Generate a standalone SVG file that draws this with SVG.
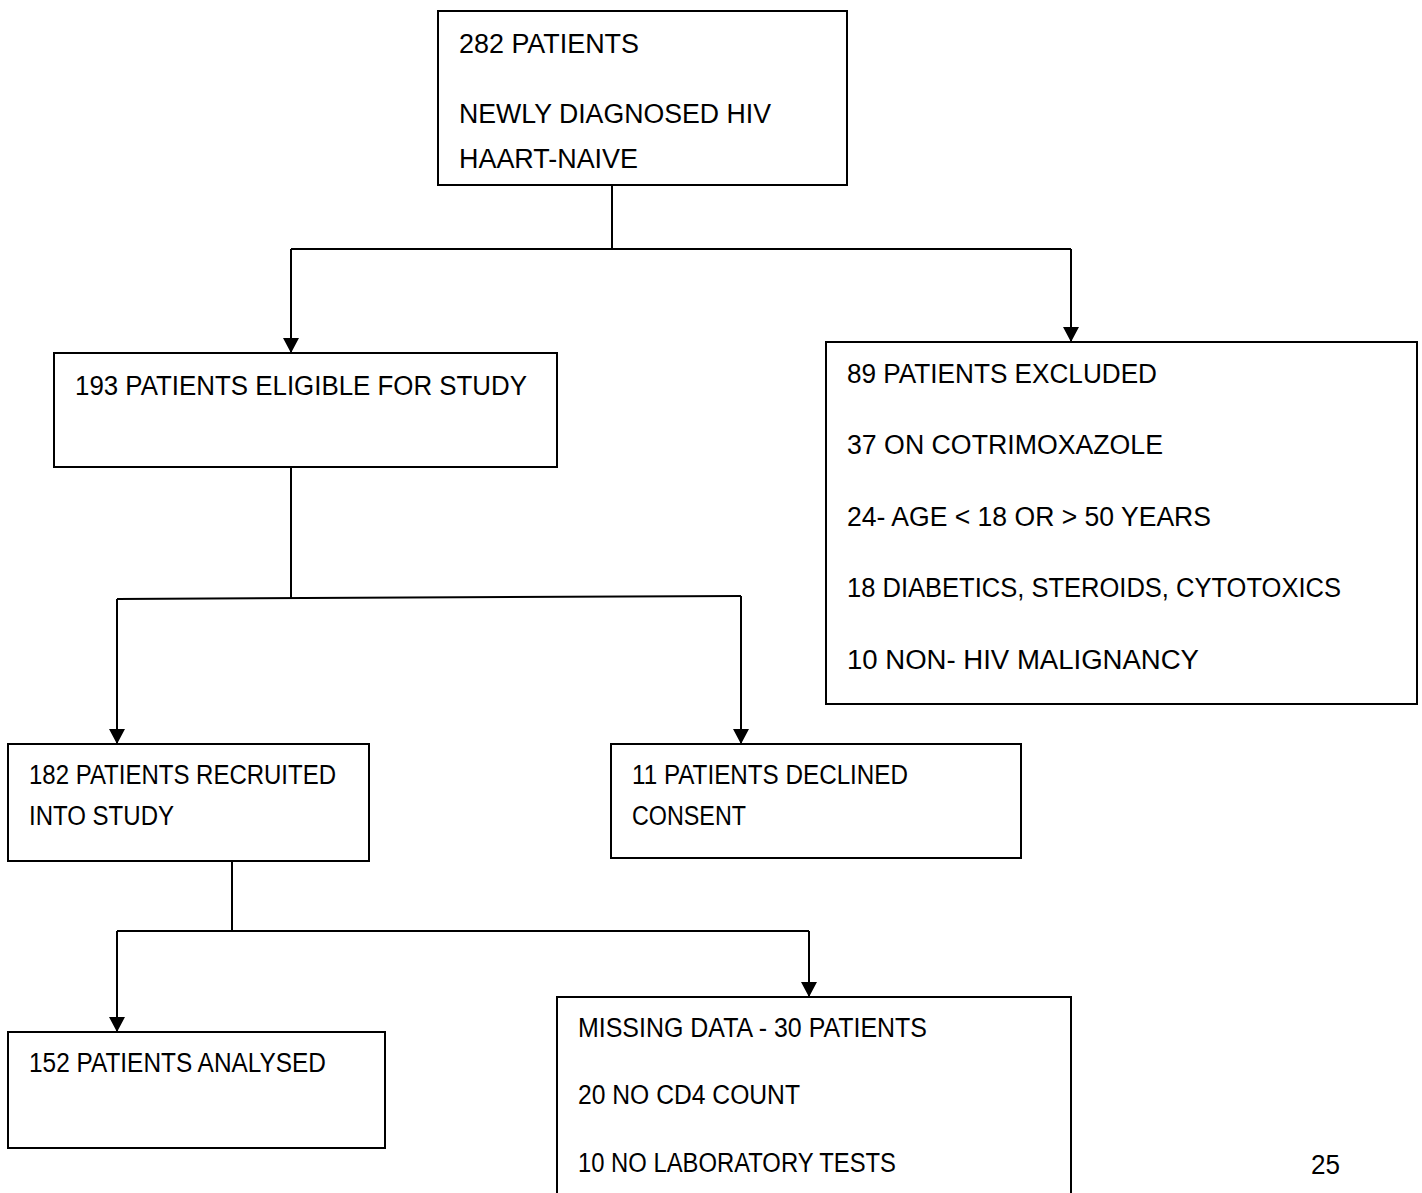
<svg xmlns="http://www.w3.org/2000/svg" width="1422" height="1193" viewBox="0 0 1422 1193">
<defs>
<style>
.box{fill:#fff;stroke:#000;stroke-width:2}
.t{font-family:"Liberation Sans",Arial,sans-serif;font-size:27px;fill:#000}
.c{fill:none;stroke:#000;stroke-width:2}
</style>
<marker id="ah" viewBox="0 0 15 16" refX="15" refY="8" markerWidth="15" markerHeight="16" markerUnits="userSpaceOnUse" orient="auto">
<path d="M0,0 L15,8 L0,16 z" fill="#000"/>
</marker>
</defs>
<rect width="1422" height="1193" fill="#fff"/>
<g id="connectors">
<path class="c" d="M612,185 V249"/>
<path class="c" d="M291,249 H1071"/>
<path class="c" d="M291,249 V353" marker-end="url(#ah)"/>
<path class="c" d="M1071,249 V342" marker-end="url(#ah)"/>
<path class="c" d="M291,467 V598"/>
<path class="c" d="M117,599 L741,596"/>
<path class="c" d="M117,599 V744" marker-end="url(#ah)"/>
<path class="c" d="M741,596 V744" marker-end="url(#ah)"/>
<path class="c" d="M232,861 V931"/>
<path class="c" d="M117,931 H809"/>
<path class="c" d="M117,931 V1032" marker-end="url(#ah)"/>
<path class="c" d="M809,931 V997" marker-end="url(#ah)"/>
</g>
<g id="n282">
<rect class="box" x="438" y="11" width="409" height="174"/>
<text class="t" x="459" y="53" textLength="180" lengthAdjust="spacingAndGlyphs">282 PATIENTS</text>
<text class="t" x="459" y="123" textLength="312" lengthAdjust="spacingAndGlyphs">NEWLY DIAGNOSED HIV</text>
<text class="t" x="459" y="168" textLength="179" lengthAdjust="spacingAndGlyphs">HAART-NAIVE</text>
</g>
<g id="n193">
<rect class="box" x="54" y="353" width="503" height="114"/>
<text class="t" x="75" y="395" textLength="452" lengthAdjust="spacingAndGlyphs">193 PATIENTS ELIGIBLE FOR STUDY</text>
</g>
<g id="n89">
<rect class="box" x="826" y="342" width="591" height="362"/>
<text class="t" x="847" y="383" textLength="310" lengthAdjust="spacingAndGlyphs">89 PATIENTS EXCLUDED</text>
<text class="t" x="847" y="454" textLength="316" lengthAdjust="spacingAndGlyphs">37 ON COTRIMOXAZOLE</text>
<text class="t" x="847" y="526" textLength="364" lengthAdjust="spacingAndGlyphs">24- AGE &lt; 18 OR &gt; 50 YEARS</text>
<text class="t" x="847" y="597" textLength="494" lengthAdjust="spacingAndGlyphs">18 DIABETICS, STEROIDS, CYTOTOXICS</text>
<text class="t" x="847" y="669" textLength="352" lengthAdjust="spacingAndGlyphs">10 NON- HIV MALIGNANCY</text>
</g>
<g id="n182">
<rect class="box" x="8" y="744" width="361" height="117"/>
<text class="t" x="29" y="784" textLength="307" lengthAdjust="spacingAndGlyphs">182 PATIENTS RECRUITED</text>
<text class="t" x="29" y="825" textLength="145" lengthAdjust="spacingAndGlyphs">INTO STUDY</text>
</g>
<g id="n11">
<rect class="box" x="611" y="744" width="410" height="114"/>
<text class="t" x="632" y="784" textLength="276" lengthAdjust="spacingAndGlyphs">11 PATIENTS DECLINED</text>
<text class="t" x="632" y="825" textLength="114" lengthAdjust="spacingAndGlyphs">CONSENT</text>
</g>
<g id="n152">
<rect class="box" x="8" y="1032" width="377" height="116"/>
<text class="t" x="29" y="1072" textLength="297" lengthAdjust="spacingAndGlyphs">152 PATIENTS ANALYSED</text>
</g>
<g id="nmissing">
<rect class="box" x="557" y="997" width="514" height="210"/>
<text class="t" x="578" y="1037" textLength="349" lengthAdjust="spacingAndGlyphs">MISSING DATA - 30 PATIENTS</text>
<text class="t" x="578" y="1104" textLength="222" lengthAdjust="spacingAndGlyphs">20 NO CD4 COUNT</text>
<text class="t" x="578" y="1172" textLength="318" lengthAdjust="spacingAndGlyphs">10 NO LABORATORY TESTS</text>
</g>
<text class="t" x="1311" y="1174" textLength="29" lengthAdjust="spacingAndGlyphs">25</text>
</svg>
